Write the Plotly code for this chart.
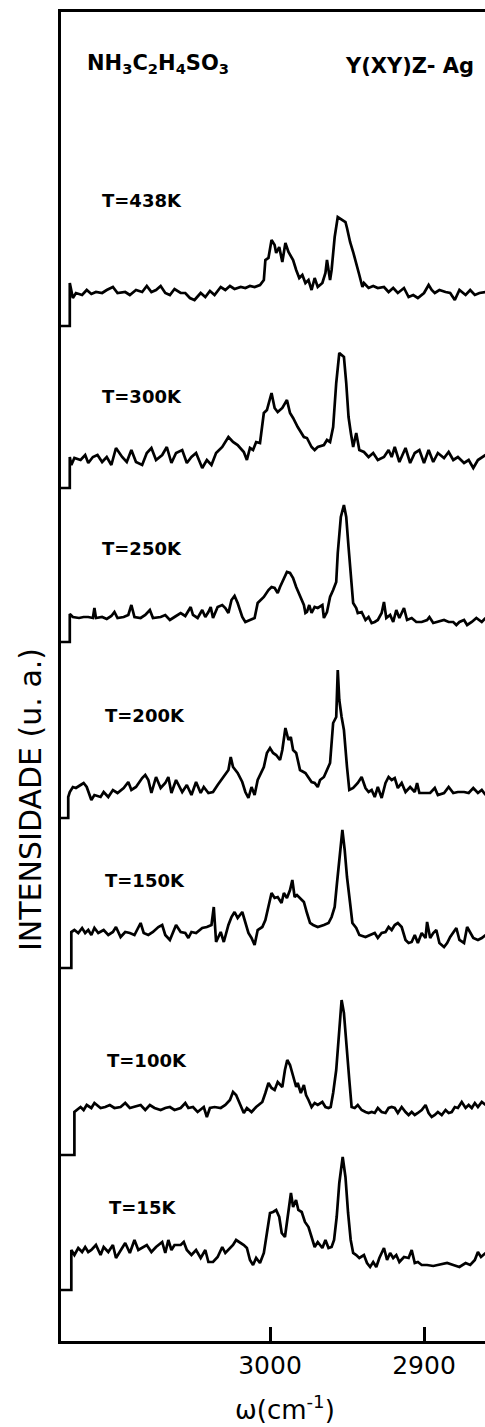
import plotly.graph_objects as go

# ---------------- data (wavenumber cm^-1, intensity a.u. above each baseline) ----------------
temps = ["438", "300", "250", "200", "150", "100", "15"]
offsets = [1045, 878, 721, 549, 406, 233, 83]      # vertical offset of each spectrum (a.u.)
steps = [-30, -25, -22, -26, -33, -47, -32]         # recorder pen start level (a.u.)
pen_start = 3137

S438 = [(3130,13),(3128,-2),(3126,3),(3122,1),(3119,6),(3116,2),(3113,4),(3109,3),(3106,6),(3102,9),
        (3099,3),(3094,4),(3091,1),(3087,6),(3083,4),(3080,10),(3077,4),(3074,6),(3071,10),(3068,3),
        (3065,1),(3062,7),(3058,3),(3055,3),(3052,-2),(3049,-4),(3045,3),(3042,-1),(3039,5),(3036,1),
        (3032,9),(3029,6),(3026,10),(3023,7),(3019,9),(3016,8),(3013,10),(3010,9),(3006.5,11),(3004,16),
        (3003,36),(3001,38),(2999,56),(2997,51),(2996,43),(2994,49),(2992,34),(2990,53),(2988,44),(2986,38),
        (2985,36),(2983,26),(2981,18),(2979,21),(2977,13),(2975,16),(2973,6),(2971,18),(2969,9),(2966,13),
        (2964,23),(2963,36),(2961,16),(2960,26),(2958,59),(2956,79),(2953,76),(2951,74),(2950,68),(2948,54),
        (2946,44),(2944,31),(2942,21),(2940,9),(2939,13),(2936,8),(2933,10),(2930,8),(2926,9),(2923,4),
        (2920,8),(2917,3),(2913,8),(2910,-1),(2907,1),(2904,-2),(2900,3),(2897,11),(2895,6),(2893,3),
        (2890,6),(2886,4),(2883,3),(2880,-4),(2877,6),(2873,1),(2870,6),(2867,1),(2864,3),(2860,4)]

S300 = [(3130,6),(3129,-2),(3127,5),(3123,3),(3120,8),(3118,0),(3115,6),(3112,8),(3109,1),(3106,6),
        (3103,-2),(3100,15),(3096,6),(3093,1),(3090,13),(3087,1),(3083,-2),(3080,10),(3077,15),(3074,3),
        (3070,8),(3067,16),(3064,0),(3061,10),(3057,13),(3054,0),(3051,6),(3048,10),(3044,-5),(3041,3),
        (3038,-2),(3035,10),(3031,16),(3027,26),(3024,21),(3021,18),(3017,11),(3015,3),(3013,15),(3011,13),
        (3009,21),(3006.5,20),(3004,50),(3002,53),(2999,70),(2997,55),(2995,51),(2992,55),(2989,63),(2987,50),
        (2985,45),(2982,36),(2978,26),(2976,25),(2973,16),(2971,13),(2969,16),(2965,18),(2963,23),(2961,21),
        (2959,36),(2957,80),(2955,110),(2952,106),(2950.5,80),(2949,46),(2947.5,30),(2946,16),(2944,30),(2942,13),
        (2939,11),(2936,6),(2933,10),(2930,3),(2926,6),(2923,13),(2921,6),(2919,16),(2916,1),(2912,15),
        (2909,0),(2906,10),(2903,13),(2900,0),(2897,13),(2894,1),(2891,10),(2887,5),(2884,11),(2881,3),
        (2878,6),(2874,0),(2871,3),(2868,-5),(2865,3),(2860,8)]

S250 = [(3130,6),(3128,3),(3124,2),(3121,3),(3118,3),(3115,2),(3114,12),(3113,2),(3109,3),(3106,1),
        (3103,4),(3101,8),(3099,2),(3095,3),(3092,5),(3090,15),(3088,3),(3084,2),(3081,5),(3078,10),
        (3076,2),(3071,3),(3068,5),(3065,0),(3062,3),(3058,7),(3055,4),(3053,10),(3051.5,13),(3050,5),
        (3047,2),(3044,10),(3042,3),(3040,8),(3038.5,13),(3037,2),(3034,13),(3031,15),(3029,12),(3027,7),
        (3025,20),(3023,24),(3021,17),(3018,3),(3016,-2),(3013,0),(3010,2),(3008,17),(3004,23),(3001,30),
        (2999,33),(2997,32),(2995,27),(2993.5,33),(2991,42),(2989,48),(2987,47),(2985,42),(2983,33),(2980.5,23),
        (2978,15),(2977,7),(2976,8),(2974.5,15),(2973,7),(2971,13),(2969,12),(2966,15),(2965,2),(2963,8),
        (2961,23),(2959,30),(2957,38),(2956,67),(2954,103),(2952,115),(2950.5,103),(2949,73),(2947.5,40),(2946,17),
        (2944,12),(2943,7),(2940.5,8),(2938,0),(2936,3),(2934,-3),(2932,-2),(2930,0),(2927.5,7),(2926,18),
        (2924.5,2),(2922,5),(2920,-2),(2918,10),(2916,2),(2913,12),(2911,0),(2908,2),(2905,-2),(2901.5,-2),
        (2898,0),(2896.5,3),(2894,-3),(2891,-2),(2887,0),(2884,-2),(2881,-2),(2879,-5),(2877,-2),(2874,0),
        (2872,-5),(2869,-2),(2866,2),(2862.5,-2),(2860,2)]

S200 = [(3131,-5),(3130,0),(3128,5),(3126,4),(3123,7),(3121,9),(3119,5),(3116,-8),(3114,-3),(3110,-5),
        (3108,0),(3105,-5),(3102,2),(3099,-1),(3095,4),(3092,10),(3090,2),(3087,5),(3083,14),(3081,17),
        (3079,12),(3077,-1),(3074,15),(3071,4),(3068,9),(3066,15),(3064,-1),(3061,12),(3057,0),(3054,7),
        (3051,-3),(3048,10),(3045,-1),(3043,5),(3040,-1),(3037,0),(3034,7),(3030,15),(3027,22),(3025.5,35),
        (3024,25),(3021,19),(3018,10),(3016,0),(3014,-6),(3012,5),(3010,-3),(3008,12),(3004,25),(3002,39),
        (3000,44),(2998,39),(2996,37),(2993.5,32),(2992,42),(2990,64),(2988,52),(2986.5,55),(2985,42),(2983,39),
        (2980.5,22),(2977,19),(2975,15),(2973,10),(2971,9),(2969,5),(2967.5,12),(2965,15),(2963,22),(2961,29),
        (2959,69),(2957,75),(2956,122),(2955,92),(2953.5,75),(2952,62),(2950,25),(2948.5,2),(2946,4),(2943,9),
        (2940.5,15),(2938,4),(2936,0),(2934,2),(2932,-5),(2930,5),(2927.5,-6),(2925,9),(2923,15),(2921,12),
        (2919,14),(2917,4),(2914.5,9),(2912,0),(2909,5),(2906,0),(2904.5,9),(2903,-1),(2899,-1),(2896,-1),
        (2893,4),(2891,-3),(2887,-1),(2884,5),(2881,-1),(2878,0),(2874,0),(2871,-1),(2868,4),(2865,-1),
        (2862.5,2),(2860,-3)]

S150 = [(3129,3),(3127,5),(3124.5,2),(3122,7),(3120,2),(3118,5),(3116,0),(3114,7),(3111.5,2),(3108,5),
        (3105,0),(3102,3),(3100,8),(3097,-2),(3094,3),(3091,2),(3088,0),(3084,12),(3082,2),(3079,0),
        (3076,3),(3072.5,8),(3070,10),(3068,0),(3065,-5),(3063,2),(3061,10),(3058,3),(3055,2),(3053,-3),
        (3051,3),(3048,2),(3044,7),(3041,8),(3038,10),(3036.5,28),(3035,-7),(3032,3),(3030,-7),(3027,10),
        (3025,18),(3023,23),(3021,17),(3018,23),(3016,12),(3014,2),(3012,-3),(3010,-10),(3008,5),(3005,8),
        (3003,15),(3001,28),(2999,42),(2997,37),(2995,38),(2992.5,32),(2991,42),(2989,37),(2987,45),(2985.5,55),
        (2984,38),(2982.5,40),(2980.5,37),(2978,33),(2976,22),(2974,12),(2972,10),(2969,8),(2965,10),(2962,12),
        (2960,18),(2958,28),(2956.5,52),(2954.5,82),(2953,105),(2951.5,85),(2950,58),(2948,32),(2946.5,12),(2944,7),
        (2942,0),(2938,-2),(2935,0),(2932,2),(2930,-3),(2927.5,2),(2925,3),(2923,8),(2921,5),(2919,10),
        (2917,12),(2914.5,8),(2912,-5),(2910,-8),(2908,-7),(2906,0),(2904,-8),(2901.5,2),(2899,-3),(2898,13),
        (2896,-3),(2894,2),(2892,5),(2890,-8),(2887,-12),(2885,-8),(2883,-2),(2881,2),(2879,7),(2877,-5),
        (2874,-8),(2872,8),(2870,2),(2868,-3),(2865,-5),(2862.5,-3),(2860,0)]

S100 = [(3127,-4),(3123,1),(3121,-2),(3119,3),(3116,0),(3114,5),(3110,0),(3107,1),(3104,3),(3101,0),
        (3097,1),(3094,5),(3091,0),(3088,1),(3084,3),(3081,-2),(3078,3),(3075,0),(3071,-2),(3068,0),
        (3065,1),(3062,-2),(3058,0),(3055,5),(3053,0),(3050,1),(3047,-4),(3043,1),(3041,-9),(3039,0),
        (3036,1),(3032,0),(3029,3),(3026,8),(3024,16),(3022,13),(3019,1),(3017,-5),(3015,0),(3012,-4),
        (3009,1),(3005,6),(3003,15),(3001,25),(2999,20),(2997,18),(2995,26),(2992,21),(2990.3,38),(2988.8,48),
        (2987,43),(2985,31),(2983,21),(2982,25),(2980,15),(2978,23),(2976.6,13),(2975,8),(2973,1),(2971,5),
        (2969,3),(2966,6),(2964,1),(2962,0),(2960.6,1),(2959,15),(2957,38),(2955,78),(2953.5,108),(2952,95),
        (2950,61),(2948.5,28),(2947,1),(2945,0),(2943,3),(2940.5,-2),(2938,-4),(2936,-5),(2934,-4),(2932,-5),
        (2930,0),(2927.5,-4),(2925,-5),(2923,0),(2921,1),(2919,0),(2917,-5),(2914.5,1),(2912,-4),(2910,-7),
        (2908,-4),(2906,-7),(2904,-5),(2901.5,-2),(2899,3),(2897,-5),(2895,-9),(2893,-7),(2891,-4),(2888.5,-7),
        (2886,-2),(2884,-5),(2882,-4),(2880,1),(2878,0),(2875.5,6),(2873,0),(2871,3),(2869,0),(2867,5),
        (2865,1),(2862.5,6),(2860,3)]

S15 = [(3129,8),(3127,3),(3124.5,10),(3122,6),(3120,11),(3118,6),(3116,8),(3113,13),(3110,3),(3108,11),
       (3105,6),(3102,13),(3100,0),(3097,8),(3094,15),(3091,5),(3088,18),(3085.5,8),(3083,10),(3080,13),
       (3077,6),(3074,11),(3070,16),(3068,5),(3066,18),(3064,8),(3062,13),(3058,13),(3056,16),(3054,8),
       (3051,3),(3048,8),(3045,0),(3042,8),(3040,-4),(3037,-4),(3034,1),(3031,11),(3029,5),(3027,8),
       (3024,13),(3022,18),(3019,15),(3017,13),(3015,10),(3013,-2),(3011,-7),(3009,0),(3006.5,-5),(3004,5),
       (3002,25),(3000,45),(2998,46),(2996,48),(2994,41),(2992.4,25),(2990.3,21),(2988,45),(2986.4,65),(2985,51),
       (2983.1,58),(2981.6,48),(2979.4,46),(2977.3,36),(2975,31),(2973,21),(2971,11),(2969,16),(2966,10),(2964,18),
       (2962,10),(2960,11),(2958.4,18),(2956.7,41),(2955,75),(2952.8,101),(2951,81),(2949.3,45),(2947.6,18),(2946,5),
       (2944,3),(2942,0),(2939,3),(2937,-5),(2935,-9),(2933,-4),(2931,-9),(2929,0),(2926,10),(2924,-2),
       (2922,5),(2920,0),(2918,3),(2916,-4),(2913,1),(2910,0),(2908,8),(2906,-5),(2904,-4),(2901.5,-7),
       (2898,-7),(2894,-8),(2890,-7),(2885,-5),(2881,-7),(2877,-9),(2873,-5),(2870,-7),(2867,-2),(2865,6),
       (2863,1),(2860,5)]

spectra = [S438, S300, S250, S200, S150, S100, S15]

x_ticks = [3000, 2900]
x_ticktext = ["3000", "2900"]

# ---------------- figure ----------------
W, H = 485, 1427
L, R, T, B = 61, 0, 12, 86
PW, PH = W - L - R, H - T - B


def px(X):
    return (X - L) / PW


def py(Y):
    return (H - B - Y) / PH


fig = go.Figure()
for temp, off, stp, spec in zip(temps, offsets, steps, spectra):
    ws = [p[0] for p in spec]
    iv = [p[1] for p in spec]
    xs = [pen_start, ws[0]] + ws
    ys = [off + stp, off + stp] + [off + v for v in iv]
    fig.add_trace(go.Scatter(x=xs, y=ys, mode="lines",
                             line=dict(color="black", width=2.7, shape="linear"),
                             name="T=" + temp + "K", hoverinfo="skip"))

fig.update_layout(
    width=W, height=H,
    margin=dict(l=L, r=R, t=T, b=B, pad=0),
    paper_bgcolor="white", plot_bgcolor="white",
    showlegend=False,
)
fig.update_xaxes(range=[3135.7, 2860.4], showline=True, linewidth=3, linecolor="black",
                 mirror=True, ticks="inside", ticklen=14, tickwidth=2.5, tickcolor="black",
                 tickvals=x_ticks, ticktext=x_ticktext, showgrid=False, zeroline=False,
                 tickfont=dict(family="DejaVu Sans", size=25, color="black"))
fig.update_yaxes(range=[0, PH], showline=True, linewidth=3, linecolor="black",
                 showticklabels=False, ticks="", showgrid=False, zeroline=False)

label_pos = [(100, 200), (100, 396), (100, 548), (103, 715), (103, 880), (105, 1060), (107, 1207)]
for temp, (X, Y) in zip(temps, label_pos):
    fig.add_annotation(x=px(X), y=py(Y), xref="paper", yref="paper", xanchor="left", yanchor="middle",
                       text="<b>T=" + temp + "K</b>", showarrow=False,
                       font=dict(family="DejaVu Sans", size=18, color="black"))

fig.add_annotation(x=px(85), y=py(64), xref="paper", yref="paper", xanchor="left", yanchor="middle",
                   text="<b>NH<sub>3</sub>C<sub>2</sub>H<sub>4</sub>SO<sub>3</sub></b>", showarrow=False,
                   font=dict(family="DejaVu Sans", size=21, color="black"))
fig.add_annotation(x=px(343), y=py(66), xref="paper", yref="paper", xanchor="left", yanchor="middle",
                   text="<b>Y(XY)Z- Ag</b>", showarrow=False,
                   font=dict(family="DejaVu Sans", size=21, color="black"))
fig.add_annotation(x=px(30), y=py(800), xref="paper", yref="paper", xanchor="center", yanchor="middle",
                   text="INTENSIDADE (u. a.)", textangle=-90, showarrow=False,
                   font=dict(family="DejaVu Sans", size=30, color="black"))
fig.add_annotation(x=px(285), y=py(1408), xref="paper", yref="paper", xanchor="center", yanchor="middle",
                   text="ω(cm<sup>-1</sup>)", showarrow=False,
                   font=dict(family="DejaVu Sans", size=26, color="black"))

fig.write_html("out.html")
